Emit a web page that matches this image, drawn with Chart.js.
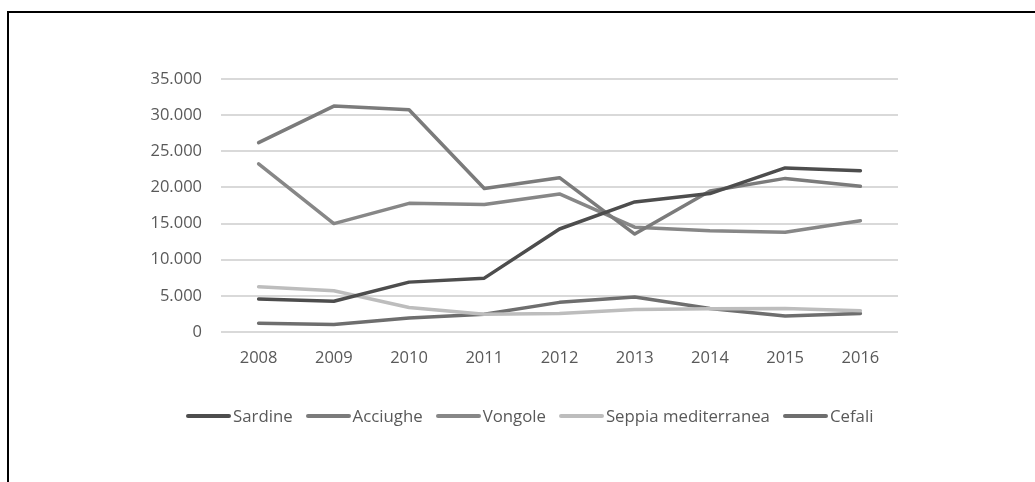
<!DOCTYPE html>
<html lang="it">
<head>
<meta charset="utf-8">
<title>Catture 2008-2016</title>
<script src="https://cdn.jsdelivr.net/npm/chart.js@4.4.1/dist/chart.umd.min.js"></script>
<style>
    html, body { margin: 0; padding: 0; background: #fff; overflow: hidden; }
    body { width: 1035px; height: 482px; position: relative; font-family: "Open Sans", sans-serif; }
    .frame { position: absolute; left: 7px; top: 11px; width: 1100px; height: 600px; border: 2px solid #000; }
    .chart-box { position: absolute; left: 0; top: 0; width: 1035px; height: 482px; }
    #custom-legend { position: absolute; left: 186px; top: 404px; display: flex; align-items: center; white-space: nowrap; }
    .legend-item { display: flex; align-items: center; margin-right: 13px; }
    .legend-color-box { display: inline-block; width: 45px; height: 4px; border-radius: 2px; margin-right: 2px; }
    .legend-label { font-size: 16.8px; color: #595959; }
</style>
</head>
<body>
<div class="frame"></div>
<div class="chart-box"><canvas id="catchChart" width="1035" height="482"></canvas></div>
<div id="custom-legend"></div>
<script>
const anni = ['2008', '2009', '2010', '2011', '2012', '2013', '2014', '2015', '2016'];
const sardine = [4550, 4250, 6900, 7450, 14250, 18000, 19150, 22700, 22300];
const acciughe = [26200, 31250, 30750, 19850, 21350, 13550, 19500, 21250, 20150];
const vongole = [23250, 15000, 17800, 17650, 19100, 14500, 14000, 13800, 15400];
const seppia = [6250, 5700, 3400, 2450, 2550, 3100, 3200, 3250, 2950];
const cefali = [1200, 1050, 1950, 2450, 4100, 4850, 3250, 2200, 2550];

const serie = [
    { label: 'Sardine', data: sardine, color: '#4d4d4d' },
    { label: 'Acciughe', data: acciughe, color: '#7b7b7b' },
    { label: 'Vongole', data: vongole, color: '#878787' },
    { label: 'Seppia mediterranea', data: seppia, color: '#bdbdbd' },
    { label: 'Cefali', data: cefali, color: '#6e6e6e' }
];

// separatore delle migliaia con il punto
const formatta = (v) => String(v).replace(/\B(?=(\d{3})+(?!\d))/g, '.');

const generateLegend = (chart) => {
    const box = document.getElementById('custom-legend');
    box.innerHTML = '';
    chart.data.datasets.forEach(ds => {
        const item = document.createElement('div');
        item.className = 'legend-item';
        item.innerHTML = `
            <span class="legend-color-box" style="background-color: ${ds.borderColor}"></span>
            <span class="legend-label">${ds.label}</span>
        `;
        box.appendChild(item);
    });
};

const ctx = document.getElementById('catchChart').getContext('2d');
const chart = new Chart(ctx, {
    type: 'line',
    data: {
        labels: anni,
        datasets: serie.map(s => ({
            label: s.label,
            data: s.data,
            borderColor: s.color,
            backgroundColor: s.color,
            borderWidth: 3.5,
            borderCapStyle: 'round',
            borderJoinStyle: 'round',
            pointRadius: 0,
            tension: 0,
            fill: false
        }))
    },
    options: {
        responsive: false,
        animation: false,
        layout: { padding: { left: 0, top: 79, right: 137, bottom: 110 } },
        plugins: {
            legend: { display: false },
            tooltip: { enabled: false }
        },
        scales: {
            x: {
                offset: true,
                grid: { display: false, drawTicks: false },
                border: { display: false },
                ticks: {
                    color: '#595959',
                    padding: 16,
                    font: { family: '"Open Sans", sans-serif', size: 16.5 },
                    maxRotation: 0
                },
                afterFit: (scale) => { scale.height = 40; }
            },
            y: {
                min: 0,
                max: 35000,
                grid: { color: '#d9d9d9', lineWidth: 2, drawTicks: false },
                border: { display: false },
                ticks: {
                    stepSize: 5000,
                    color: '#595959',
                    padding: 19,
                    font: { family: '"Open Sans", sans-serif', size: 16.5 },
                    callback: (value) => formatta(value)
                },
                afterFit: (scale) => { scale.width = 221; }
            }
        }
    }
});

generateLegend(chart);
</script>
</body>
</html>
